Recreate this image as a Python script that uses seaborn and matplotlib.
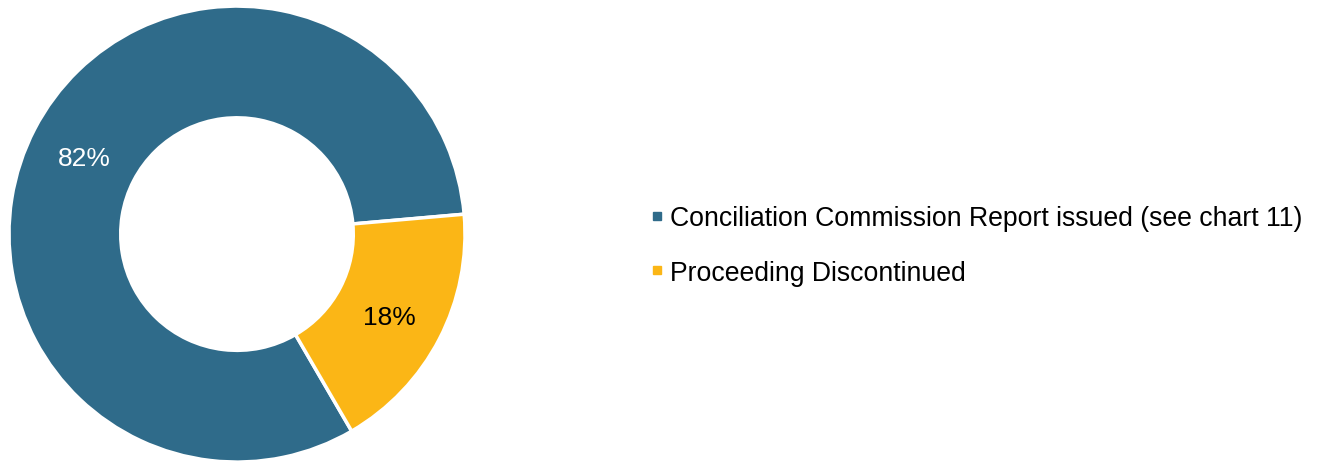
import seaborn as sns
import matplotlib.pyplot as plt
from matplotlib.lines import Line2D

categories = ["Conciliation Commission Report issued (see chart 11)", "Proceeding Discontinued"]
shares = [82, 18]
colors = ["#2F6B8A", "#FBB616"]
label_colors = ["white", "black"]

sns.set_style("white")
plt.rcParams['font.family'] = ['Liberation Sans', 'DejaVu Sans']
plt.rcParams['text.color'] = 'black'

fig = plt.figure(figsize=(13.2, 4.64), dpi=100)
ax = fig.add_axes([9 / 1320, 0.002, 456 / 1320, 456 / 464])

wedges, texts, autotexts = ax.pie(
    shares,
    colors=colors,
    startangle=5,
    counterclock=True,
    autopct='%1.0f%%',
    pctdistance=0.755,
    wedgeprops=dict(width=0.49, edgecolor='white', linewidth=2.5),
    textprops=dict(fontsize=19),
)
for t, c in zip(autotexts, label_colors):
    t.set_color(c)
    x, y = t.get_position()
    t.set_position((x, y - 0.015))

ax.set_xlim(-1, 1)
ax.set_ylim(-1, 1)
ax.set_aspect('equal')
ax.axis('off')

handles = [Line2D([], [], marker='s', linestyle='none', markersize=6,
                  markerfacecolor=c, markeredgecolor=c) for c in colors]
fig.legend(handles, categories, loc='center left', bbox_to_anchor=(0.4925, 0.469),
           frameon=False, fontsize=19.2, handletextpad=0.25, labelspacing=1.08,
           handlelength=0.5, borderpad=0, borderaxespad=0)

fig.savefig("out.png", dpi=100)
